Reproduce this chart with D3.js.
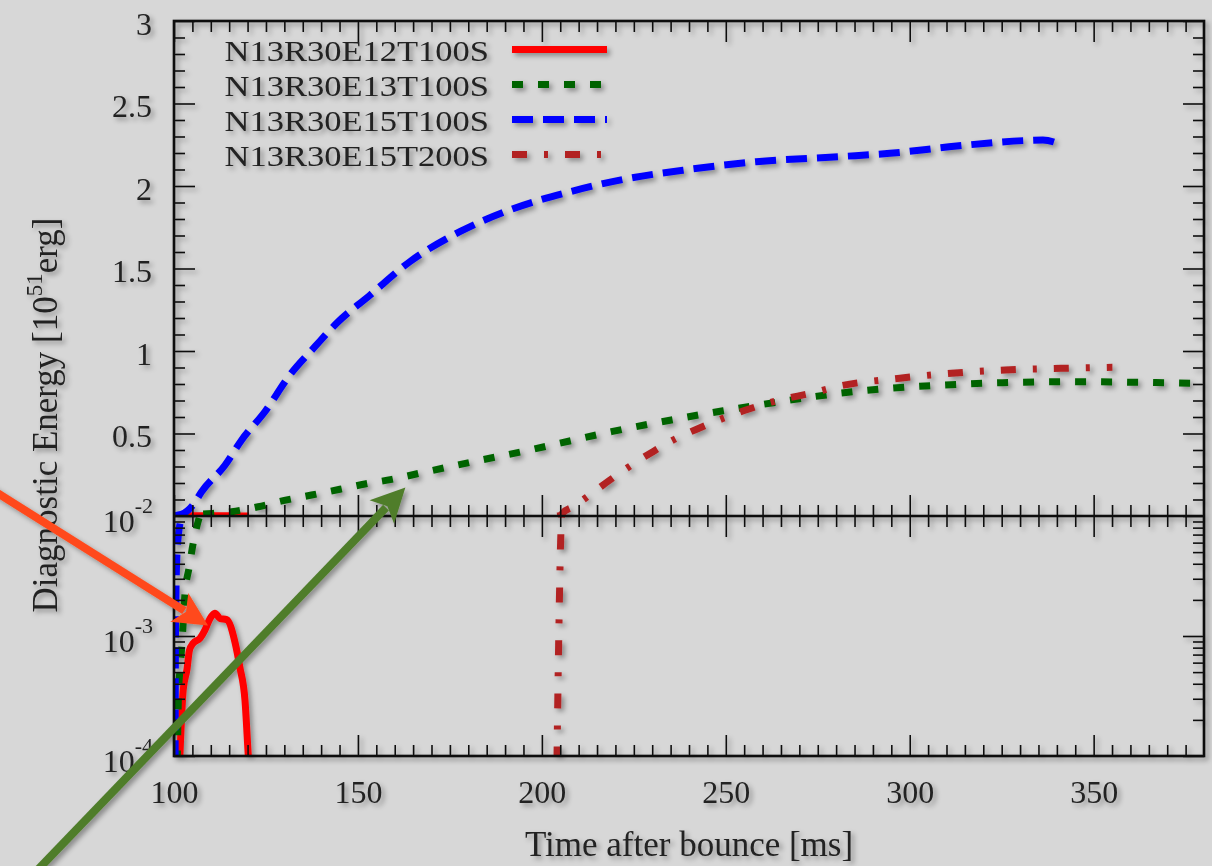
<!DOCTYPE html>
<html><head><meta charset="utf-8">
<script src="https://cdn.jsdelivr.net/npm/d3@7"></script>
<style>
html,body{margin:0;padding:0;background:#d7d7d7;}
svg{display:block;}
text{font-family:"Liberation Serif","Times New Roman",serif;fill:#222;}
</style></head><body>
<svg id="c" width="1212" height="866"></svg>
<script>
// ---------- data ----------
const seriesNames = ["N13R30E12T100S","N13R30E13T100S","N13R30E15T100S","N13R30E15T200S"];
const seriesColors = ["#ff0000","#006400","#0000ff","#b22222"];
const seriesDash = [null,"11,15","21,10","15,17,4,17"];

const e12t100 = [[101.6,1e-4],[101.9,1.65e-4],[102.5,3.55e-4],[103.5,5.2e-4],[104.2,7.6e-4],[105.2,8.7e-4],
 [107.1,9.6e-4],[108.4,1.12e-3],[109.8,1.4e-3],[111.1,1.55e-3],[112.5,1.4e-3],[114.3,1.37e-3],
 [116.6,8.8e-4],[117.9,5.5e-4],[119.3,2.9e-4],[120.2,1e-4],[120.4,8e-5]];
const e13t100 = [[100.9,9e-5],[101.2,3.1e-4],[101.6,5.2e-4],[102.1,8.1e-4],[103.0,2.3e-3],[104.1,3.7e-3],
 [105.2,5.9e-3],[107.0,0.01],[115.7,0.026],[122.9,0.056],[129.7,0.093],[137.4,0.127],[145.1,0.162],
 [151.9,0.194],[159.2,0.222],[167.3,0.262],[181.3,0.329],[196.7,0.4],[204.9,0.441],[218.9,0.511],
 [235.2,0.582],[249.3,0.638],[257.4,0.667],[271.9,0.717],[279.2,0.739],[294.8,0.774],[309.4,0.794],
 [325.2,0.808],[347.4,0.814],[362.7,0.81],[378.5,0.804],[381,0.803]];
const e15t100 = [[100.3,9e-5],[100.4,1e-3],[100.6,3e-3],[101.0,6e-3],[102.0,0.01],[105.2,0.067],[107.5,0.147],
 [113.9,0.309],[118.4,0.461],[124.7,0.632],[131.5,0.855],[138.3,1.026],[144.2,1.168],[153.3,1.339],
 [164.1,1.541],[177.7,1.723],[191.3,1.855],[207.6,1.965],[222.1,2.04],[240.2,2.101],[258.3,2.147],
 [281,2.178],[294.6,2.198],[312.7,2.242],[330.8,2.275],[336.2,2.279],[340.3,2.259]];
const e15t200 = [[204.1,9e-5],[204.6,1e-3],[205.2,7.6e-3],[205.4,0.01],[205.6,0.016],[208.5,0.056],[213,0.127],
 [218.5,0.218],[224.4,0.309],[230.2,0.39],[236.1,0.465],[242.7,0.532],[249.3,0.592],[256.1,0.647],
 [264.7,0.703],[273.7,0.747],[280.1,0.784],[297.3,0.835],[311.3,0.865],[325.9,0.885],[341.1,0.895],[355.1,0.901]];
const seriesData = [e12t100,e13t100,e15t100,e15t200];

const xMajor = [100,150,200,250,300,350];
const xMinor = d3.range(105,380,5).filter(v => v % 50 !== 0);
const yTopMajor = [0.5,1,1.5,2,2.5,3];
const yTopMinor = d3.range(1,30).map(i => i/10).filter(v => Math.round(v*10) % 5 !== 0);
const yLogMajor = [1e-4,1e-3,1e-2];
const yLogLabels = [["10","-4"],["10","-3"],["10","-2"]];
const yLogMinor = [2,3,4,5,6,7,8,9].map(k=>k*1e-4).concat([2,3,4,5,6,7,8,9].map(k=>k*1e-3));
const xTitle = "Time after bounce [ms]";
// annotation arrows: [t0, E0] -> [t1, E1] in (ms, linear top-panel units, extended)
const arrows = [
  {from:[50,0.168], to:[109.25,-0.664], color:"#ff4a1c"},
  {from:[60,-2.213], to:[162.9,0.173], color:"#4f7d2c"}
];

// ---------- scales ----------
const x = d3.scaleLinear().domain([100,380]).range([174,1204]);
const yTop = d3.scaleLinear().domain([0,3]).range([516,21]);
const yBot = d3.scaleLog().domain([1e-4,1e-2]).range([756,516]);

const svg = d3.select("#c");
const defs = svg.append("defs");
const f = defs.append("filter").attr("id","sh").attr("x","-5%").attr("y","-5%").attr("width","110%").attr("height","110%");
f.append("feDropShadow").attr("dx",3).attr("dy",3).attr("stdDeviation",2.4)
 .attr("flood-color","#000").attr("flood-opacity",0.35);
defs.append("clipPath").attr("id","clipTop").append("rect")
 .attr("x",x(100)).attr("y",yTop(3)).attr("width",x(380)-x(100)).attr("height",yTop(0)-yTop(3));
defs.append("clipPath").attr("id","clipBot").append("rect")
 .attr("x",x(100)).attr("y",yBot(1e-2)).attr("width",x(380)-x(100)).attr("height",yBot(1e-4)-yBot(1e-2));

const g = svg.append("g").attr("filter","url(#sh)");

// ---------- curves ----------
const lineTop = d3.line().curve(d3.curveMonotoneX).x(d=>x(d[0])).y(d=>yTop(d[1]));
const lineBot = d3.line().curve(d3.curveMonotoneX).x(d=>x(d[0])).y(d=>yBot(Math.max(d[1],1e-6)));
const curves = g.append("g");
seriesData.forEach((data,i)=>{
  curves.append("path").attr("clip-path","url(#clipTop)").attr("d",lineTop(data))
   .attr("fill","none").attr("stroke",seriesColors[i]).attr("stroke-width",7)
   .attr("stroke-dasharray",seriesDash[i]).attr("stroke-linejoin","round");
  curves.append("path").attr("clip-path","url(#clipBot)").attr("d",lineBot(data))
   .attr("fill","none").attr("stroke",seriesColors[i]).attr("stroke-width",7)
   .attr("stroke-dasharray",seriesDash[i]).attr("stroke-linejoin","round");
});

// ---------- axes / ticks ----------
const ax = g.append("g");
function addAxis(gen, tx, ty){
  const a = ax.append("g").attr("transform",`translate(${tx},${ty})`).call(gen);
  a.select(".domain").remove();
  a.selectAll("line").attr("stroke","#111").attr("stroke-width",1.6);
  return a;
}
const big = 21, small = 11;
// top border
addAxis(d3.axisTop(x).tickValues(xMajor).tickSize(-big).tickFormat(""),0,yTop(3));
addAxis(d3.axisTop(x).tickValues(xMinor).tickSize(-small).tickFormat(""),0,yTop(3));
// junction: up (top panel) and down (bottom panel)
addAxis(d3.axisBottom(x).tickValues(xMajor).tickSize(-big).tickFormat(""),0,yTop(0));
addAxis(d3.axisBottom(x).tickValues(xMinor).tickSize(-small).tickFormat(""),0,yTop(0));
addAxis(d3.axisTop(x).tickValues(xMajor).tickSize(-big).tickFormat(""),0,yBot(1e-2));
addAxis(d3.axisTop(x).tickValues(xMinor).tickSize(-small).tickFormat(""),0,yBot(1e-2));
// bottom border with labels
const xb = addAxis(d3.axisBottom(x).tickValues(xMajor).tickSize(-big).tickPadding(24).tickFormat(d=>String(d)),0,yBot(1e-4));
xb.selectAll("text").attr("font-size",32).attr("fill","#222").attr("font-family","Liberation Serif");
addAxis(d3.axisBottom(x).tickValues(xMinor).tickSize(-small).tickFormat(""),0,yBot(1e-4));
// top panel left/right
const yl = addAxis(d3.axisLeft(yTop).tickValues(yTopMajor).tickSize(-big).tickPadding(22).tickFormat(d=>String(d)),x(100),0);
yl.selectAll("text").attr("font-size",32).attr("dy","0.42em").attr("fill","#222").attr("font-family","Liberation Serif");
addAxis(d3.axisLeft(yTop).tickValues(yTopMinor).tickSize(-small).tickFormat(""),x(100),0);
addAxis(d3.axisRight(yTop).tickValues(yTopMajor).tickSize(-big).tickFormat(""),x(380),0);
addAxis(d3.axisRight(yTop).tickValues(yTopMinor).tickSize(-small).tickFormat(""),x(380),0);
// bottom panel left/right
addAxis(d3.axisLeft(yBot).tickValues(yLogMajor).tickSize(-big).tickFormat(""),x(100),0);
addAxis(d3.axisLeft(yBot).tickValues(yLogMinor).tickSize(-small).tickFormat(""),x(100),0);
addAxis(d3.axisRight(yBot).tickValues(yLogMajor).tickSize(-big).tickFormat(""),x(380),0);
addAxis(d3.axisRight(yBot).tickValues(yLogMinor).tickSize(-small).tickFormat(""),x(380),0);
// log labels
yLogMajor.forEach((v,i)=>{
  const t = ax.append("text").attr("x",x(100)-21).attr("y",yBot(v)+16)
    .attr("text-anchor","end").attr("font-size",32);
  t.append("tspan").text(yLogLabels[i][0]);
  t.append("tspan").attr("font-size",22).attr("dy",-19).text(yLogLabels[i][1]);
});

// frame
ax.append("rect").attr("x",x(100)).attr("y",yTop(3)).attr("width",x(380)-x(100)).attr("height",yBot(1e-4)-yTop(3))
  .attr("fill","none").attr("stroke","#111").attr("stroke-width",2.6);
ax.append("line").attr("x1",x(100)).attr("x2",x(380)).attr("y1",yTop(0)).attr("y2",yTop(0))
  .attr("stroke","#111").attr("stroke-width",2.6);

// titles
g.append("text").attr("x",689).attr("y",856).attr("text-anchor","middle")
  .attr("font-size",35).text(xTitle);
const yt = g.append("text").attr("transform","translate(57,415) rotate(-90)").attr("text-anchor","middle").attr("font-size",35);
yt.append("tspan").text("Diagnostic Energy [10");
yt.append("tspan").attr("font-size",23).attr("dy",-15).text("51");
yt.append("tspan").attr("dy",15).text("erg]");

// legend
const leg = g.append("g");
seriesNames.forEach((n,i)=>{
  const yy = 62 + i*35;
  leg.append("text").attr("transform",`translate(489,${yy-1}) scale(1.15,1)`)
    .attr("text-anchor","end").attr("font-size",30).text(n);
  leg.append("line").attr("x1",512).attr("x2",607).attr("y1",yy-12.5).attr("y2",yy-12.5)
    .attr("stroke",seriesColors[i]).attr("stroke-width",7).attr("stroke-dasharray",seriesDash[i]);
});

// arrows
const ag = g.append("g");
arrows.forEach(a=>{
  const x0=x(a.from[0]), y0=yTop(a.from[1]), x1=x(a.to[0]), y1=yTop(a.to[1]);
  const dx=x1-x0, dy=y1-y0, L=Math.hypot(dx,dy), ux=dx/L, uy=dy/L, px=-uy, py=ux;
  const hl=34, hw=17;
  ag.append("line").attr("x1",x0).attr("y1",y0).attr("x2",x1-ux*(hl-6)).attr("y2",y1-uy*(hl-6))
    .attr("stroke",a.color).attr("stroke-width",8);
  const pts=[[x1,y1],[x1-ux*hl+px*hw,y1-uy*hl+py*hw],[x1-ux*(hl-8),y1-uy*(hl-8)],[x1-ux*hl-px*hw,y1-uy*hl-py*hw]];
  ag.append("polygon").attr("points",pts.map(p=>p.join(",")).join(" ")).attr("fill",a.color);
});
</script>
</body></html>
